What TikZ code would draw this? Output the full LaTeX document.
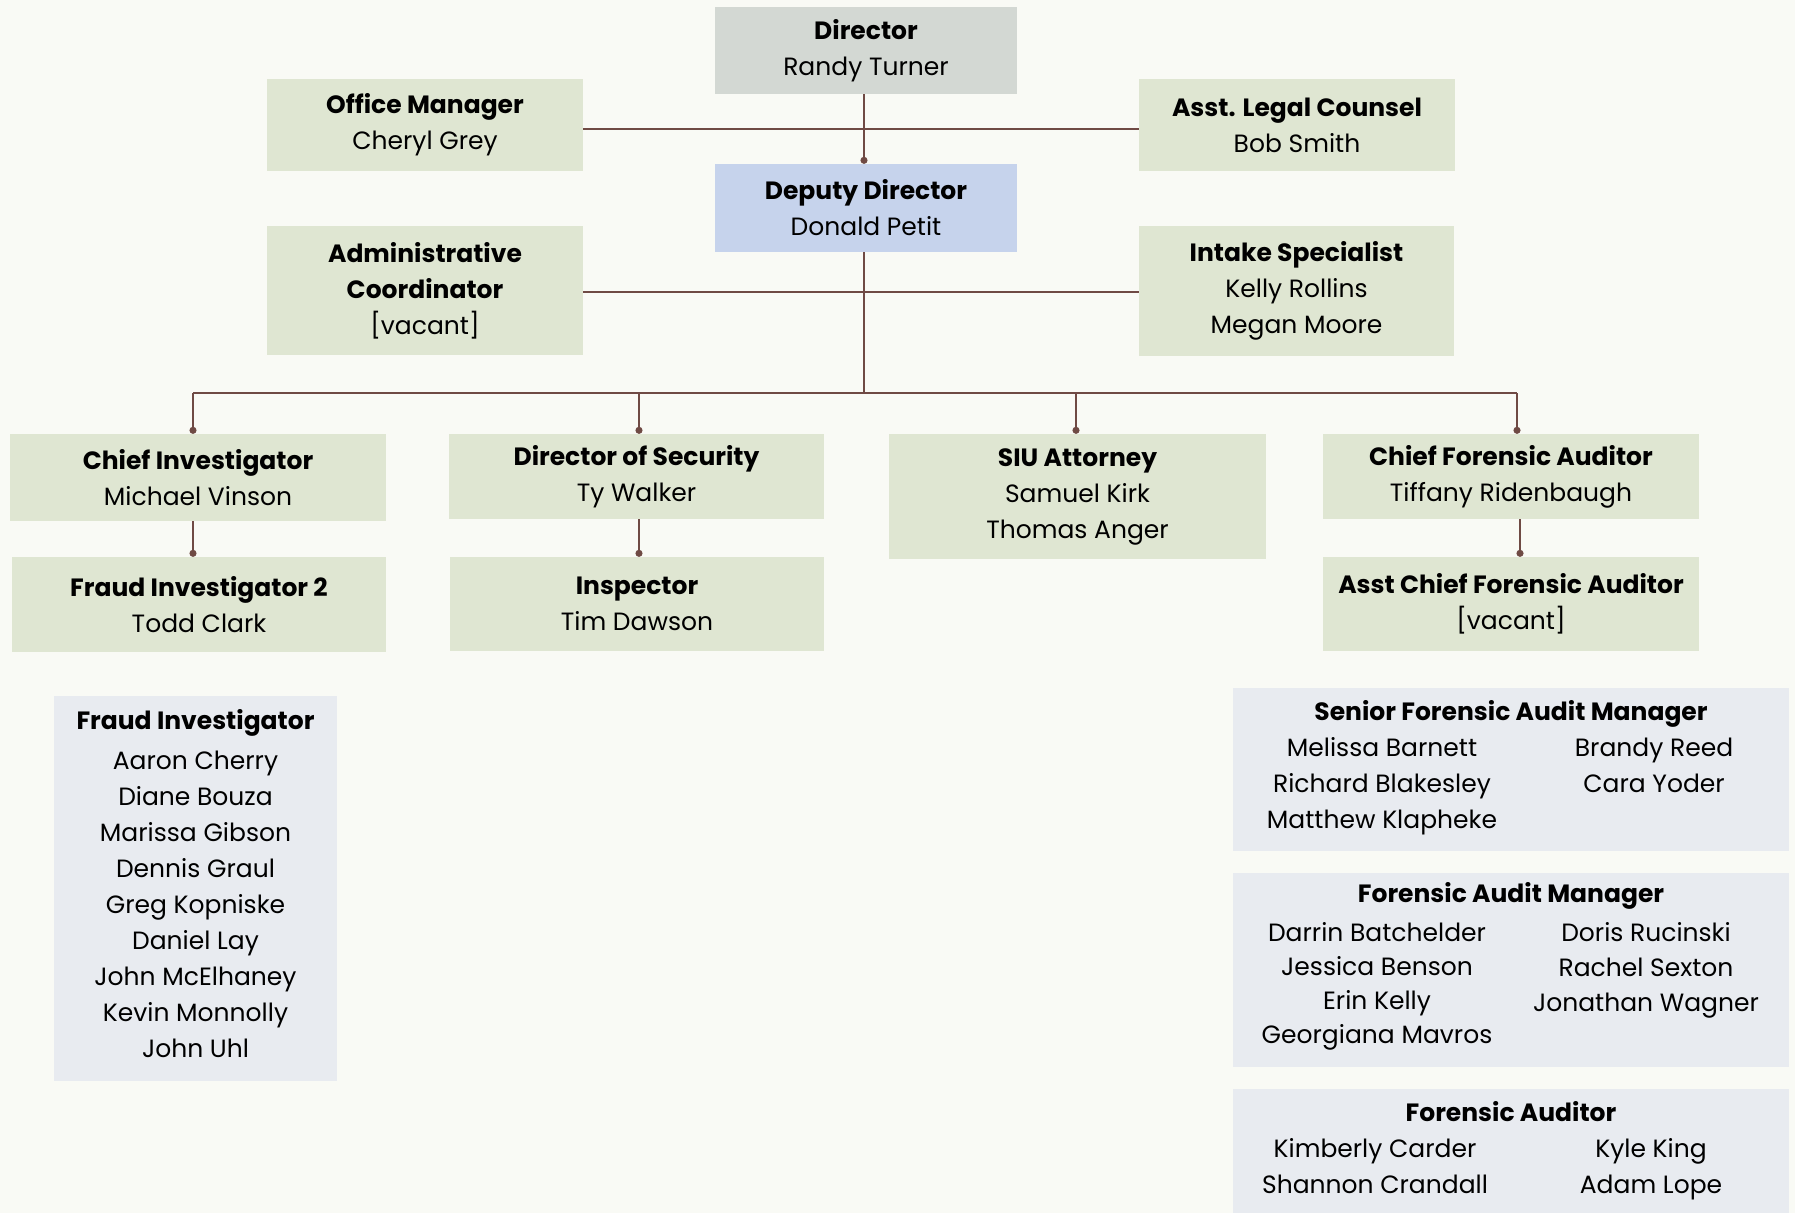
\documentclass[tikz,border=0pt]{standalone}
\usepackage{fontspec}
\setmainfont{Poppins}
\usetikzlibrary{arrows.meta}
\definecolor{bgc}{HTML}{F9FAF5}
\definecolor{boxgreen}{HTML}{DFE6D2}
\definecolor{dirgrey}{HTML}{D3D8D3}
\definecolor{depblue}{HTML}{C6D3EC}
\definecolor{listblue}{HTML}{E8EBF0}
\definecolor{linec}{HTML}{6F4A44}
\tikzset{
  x=1pt, y=-1pt,
  txt/.style={font=\fontsize{25}{36}\selectfont, align=center, inner sep=0pt, text=black},
  gbox/.style={txt, fill=boxgreen},
  lbox/.style={fill=listblue, inner sep=0pt},
  conn/.style={draw=linec, line width=1.6pt},
  dotconn/.style={conn, -{Circle[length=7pt,width=7pt]}},
}
\begin{document}
\begin{tikzpicture}
\useasboundingbox[fill=bgc] (0,0) rectangle (1795,1213);

% top level
\node[txt, fill=dirgrey, minimum width=302, minimum height=87] (dir) at (866,50.5) {\textbf{Director}\\Randy Turner};
\node[txt, fill=depblue, minimum width=302, minimum height=88] (dep) at (866,208) {\textbf{Deputy Director}\\Donald Petit};
\node[gbox, minimum width=316, minimum height=92] (om) at (425,125) {\textbf{Office Manager}\\Cheryl Grey};
\node[gbox, minimum width=316, minimum height=92] (alc) at (1297,125) {\textbf{Asst. Legal Counsel}\\Bob Smith};
\node[gbox, minimum width=316, minimum height=129] (ac) at (425,290.5) {\textbf{Administrative}\\\textbf{Coordinator}\\{[vacant]}};
\node[gbox, minimum width=315, minimum height=130] (is) at (1296.5,291) {\textbf{Intake Specialist}\\Kelly Rollins\\Megan Moore};

% second level
\node[gbox, minimum width=376, minimum height=87] (ci) at (198,477.5) {\textbf{Chief Investigator}\\Michael Vinson};
\node[gbox, minimum width=374, minimum height=95] (fi2) at (199,604.5) {\textbf{Fraud Investigator 2}\\Todd Clark};
\node[gbox, minimum width=375, minimum height=85] (ds) at (636.5,476.5) {\textbf{Director of Security}\\Ty Walker};
\node[gbox, minimum width=374, minimum height=94] (insp) at (637,604) {\textbf{Inspector}\\Tim Dawson};
\node[gbox, minimum width=377, minimum height=125] (siu) at (1077.5,496.5) {\textbf{SIU Attorney}\\Samuel Kirk\\Thomas Anger};
\node[gbox, minimum width=376, minimum height=85] (cfa) at (1511,476.5) {\textbf{Chief Forensic Auditor}\\Tiffany Ridenbaugh};
\node[gbox, minimum width=376, minimum height=94] (acfa) at (1511,604) {\textbf{Asst Chief Forensic Auditor}\\{[vacant]}};

% lists
\node[lbox, minimum width=283, minimum height=385] (fibox) at (195.5,888.5) {};
\node[txt] (fitxt) at (195.5,884) {\textbf{Fraud Investigator}\\[4pt]Aaron Cherry\\Diane Bouza\\Marissa Gibson\\Dennis Graul\\Greg Kopniske\\Daniel Lay\\John McElhaney\\Kevin Monnolly\\John Uhl};

\node[lbox, minimum width=556, minimum height=163] (sfam) at (1511,769.5) {};
\node[txt] (sfamt) at (1511,714) {\textbf{Senior Forensic Audit Manager}};
\node[txt] (sfaml) at (1382,786) {Melissa Barnett\\Richard Blakesley\\Matthew Klapheke};
\node[txt] (sfamr) at (1654,765) {Brandy Reed\\Cara Yoder};

\node[lbox, minimum width=556, minimum height=194] (fam) at (1511,970) {};
\node[txt] (famt) at (1511,896) {\textbf{Forensic Audit Manager}};
\node[txt, font=\fontsize{25}{34}\selectfont] (faml) at (1377,986) {Darrin Batchelder\\Jessica Benson\\Erin Kelly\\Georgiana Mavros};
\node[txt, font=\fontsize{25}{35}\selectfont] (famr) at (1646,970) {Doris Rucinski\\Rachel Sexton\\Jonathan Wagner};

\node[lbox, minimum width=556, minimum height=124] (fa) at (1511,1151) {};
\node[txt] (fat) at (1511,1112) {\textbf{Forensic Auditor}};
\node[txt] (fal) at (1375,1166) {Kimberly Carder\\Shannon Crandall};
\node[txt] (far) at (1651,1169) {Kyle King\\Adam Lope};

% connectors
\coordinate (omR) at (583,129);
\coordinate (acR) at (583,292);
\draw[conn] (om.east |- omR) -- (alc.west |- omR);
\draw[conn] (ac.east |- acR) -- (is.west |- acR);

\coordinate (bus) at (864,393);
\coordinate (bL) at (193,393);
\coordinate (bR) at (1517,393);
\draw[dotconn] (bus |- dir.south) -- (bus |- dep.north);
\draw[conn] (bus |- dep.south) -- (bus);
\draw[conn] (bL) -- (bR);
\draw[dotconn] (bL) -- (bL |- ci.north);
\draw[dotconn] (639,393) -- (639,0 |- ds.north);
\draw[dotconn] (1076,393) -- (1076,0 |- siu.north);
\draw[dotconn] (bR) -- (bR |- cfa.north);

\draw[dotconn] (193,0 |- ci.south) -- (193,0 |- fi2.north);
\draw[dotconn] (639,0 |- ds.south) -- (639,0 |- insp.north);
\draw[dotconn] (1520,0 |- cfa.south) -- (1520,0 |- acfa.north);
\end{tikzpicture}
\end{document}
